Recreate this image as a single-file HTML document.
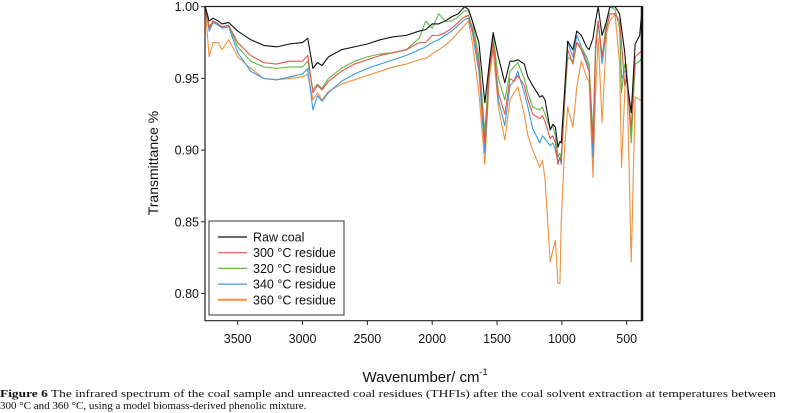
<!DOCTYPE html>
<html><head><meta charset="utf-8"><style>
body{margin:0;background:#fff;width:789px;height:413px;overflow:hidden}
svg{display:block;font-family:"Liberation Sans",sans-serif}
</style></head><body>
<svg id="chart" width="789" height="413">
<defs><clipPath id="pc"><rect x="205" y="6" width="437" height="315"/></clipPath></defs>
<g id="series" clip-path="url(#pc)"></g>
<line x1="205" y1="6.5" x2="642" y2="6.5" stroke="#222" stroke-width="1.2"/>
<line x1="205" y1="6" x2="205" y2="321" stroke="#222" stroke-width="1.2"/>
<line x1="205" y1="320.7" x2="643" y2="320.7" stroke="#222" stroke-width="1.2"/>
<line x1="642" y1="6" x2="642" y2="321" stroke="#111" stroke-width="2.5"/>
<g id="yticks"></g>
<g id="xticks"></g>
<text x="158" y="163" transform="rotate(-90 158 163)" text-anchor="middle" font-size="14" fill="#111">Transmittance %</text>
<text x="425" y="382" text-anchor="middle" font-size="15" fill="#111">Wavenumber/ cm<tspan dy="-7" font-size="9">-1</tspan></text>
<g>
<rect x="209" y="221" width="135" height="94" fill="#fff" stroke="#333" stroke-width="1"/>
<g id="legend"></g>
</g>
<text x="0" y="397" font-family="'Liberation Serif',serif" font-size="11" fill="#111" textLength="776" lengthAdjust="spacingAndGlyphs"><tspan font-weight="bold">Figure 6</tspan>  The infrared spectrum of the coal sample and unreacted coal residues (THFIs) after the coal solvent extraction at temperatures between</text>
<text x="0" y="409" font-family="'Liberation Serif',serif" font-size="11" fill="#111">300 °C and 360 °C, using a model biomass-derived phenolic mixture.</text>
</svg>
<script>
const wn=[3750,3720,3690,3650,3620,3570,3500,3400,3300,3200,3100,3000,2960,2920,2885,2850,2800,2700,2600,2500,2400,2300,2200,2100,2050,2000,1950,1900,1850,1800,1750,1720,1690,1640,1594,1560,1530,1490,1440,1400,1370,1340,1290,1262,1225,1170,1150,1130,1090,1070,1050,1030,1015,1005,980,955,915,885,850,810,790,760,740,720,690,655,630,590,555,540,515,500,465,435,400,380];
const rawCoal=[1.0,0.99,0.992,0.99,0.988,0.989,0.983,0.977,0.973,0.972,0.974,0.975,0.978,0.957,0.961,0.959,0.965,0.970,0.972,0.974,0.977,0.979,0.980,0.983,0.984,0.988,0.988,0.990,0.993,0.995,1.0,0.998,0.99,0.975,0.933,0.96,0.982,0.965,0.947,0.962,0.962,0.963,0.96,0.951,0.945,0.937,0.938,0.935,0.914,0.918,0.916,0.902,0.906,0.905,0.94,0.976,0.97,0.983,0.98,0.972,0.97,0.978,0.99,1.0,0.98,0.99,1.0,1.0,0.995,0.985,0.968,0.95,0.926,0.974,0.98,1.0];
const res300=[1.0,0.985,0.99,0.988,0.986,0.987,0.975,0.966,0.961,0.960,0.962,0.962,0.966,0.940,0.945,0.942,0.948,0.955,0.960,0.963,0.966,0.968,0.970,0.975,0.975,0.980,0.980,0.982,0.985,0.989,0.993,0.994,0.985,0.96,0.905,0.955,0.975,0.94,0.925,0.95,0.948,0.952,0.945,0.935,0.925,0.922,0.924,0.92,0.908,0.91,0.905,0.89,0.895,0.892,0.935,0.97,0.96,0.975,0.97,0.96,0.955,0.905,0.97,0.99,0.965,0.985,0.995,0.995,0.99,0.975,0.945,0.95,0.915,0.965,0.968,0.97];
const res320=[1.0,0.986,0.99,0.988,0.986,0.987,0.972,0.962,0.958,0.957,0.958,0.958,0.962,0.942,0.946,0.943,0.95,0.957,0.962,0.965,0.967,0.968,0.97,0.978,0.99,0.985,0.995,0.99,0.99,0.993,0.997,0.997,0.99,0.965,0.912,0.96,0.98,0.95,0.935,0.955,0.958,0.961,0.95,0.94,0.93,0.928,0.93,0.925,0.915,0.917,0.91,0.895,0.898,0.893,0.93,0.965,0.962,0.975,0.972,0.965,0.96,0.91,0.975,0.99,0.965,0.99,1.0,0.998,0.985,0.94,0.96,0.955,0.905,0.96,0.962,0.965];
const res340=[1.0,0.983,0.989,0.987,0.985,0.986,0.968,0.955,0.95,0.949,0.951,0.953,0.957,0.928,0.938,0.934,0.94,0.948,0.953,0.957,0.96,0.963,0.966,0.97,0.972,0.975,0.977,0.98,0.983,0.987,0.991,0.992,0.982,0.955,0.898,0.955,0.978,0.935,0.917,0.945,0.948,0.955,0.94,0.93,0.915,0.905,0.91,0.908,0.903,0.905,0.9,0.892,0.895,0.89,0.935,0.975,0.965,0.98,0.972,0.962,0.958,0.895,0.97,0.99,0.96,0.985,0.995,0.995,0.99,0.95,0.955,0.955,0.91,0.96,0.962,0.965];
const res360=[0.998,0.965,0.975,0.975,0.97,0.977,0.965,0.957,0.95,0.949,0.95,0.951,0.953,0.935,0.94,0.935,0.941,0.946,0.949,0.952,0.955,0.958,0.96,0.963,0.964,0.967,0.97,0.973,0.977,0.982,0.987,0.99,0.975,0.94,0.89,0.95,0.97,0.93,0.907,0.935,0.94,0.944,0.925,0.91,0.9,0.888,0.893,0.88,0.822,0.83,0.837,0.807,0.807,0.85,0.9,0.93,0.916,0.944,0.962,0.951,0.948,0.881,0.94,0.978,0.919,0.982,0.99,0.995,0.96,0.888,0.94,0.96,0.822,0.937,0.935,0.935];
const seriesNames=["Raw coal","300 °C residue","320 °C residue","340 °C residue","360 °C residue"];
const seriesColors=["#111111","#e0564a","#5fb844","#3d9be0","#f0903c"];
const yTicks=[1.00,0.95,0.90,0.85,0.80];
const xTicks=[3500,3000,2500,2000,1500,1000,500];

const NS="http://www.w3.org/2000/svg";
const xs=w=>237.7+(3500-w)*0.12967;
const ys=v=>6.7+(1-v)*1434;
function mk(tag,attrs,parent){const e=document.createElementNS(NS,tag);for(const k in attrs)e.setAttribute(k,attrs[k]);parent.appendChild(e);return e;}
const all=[rawCoal,res300,res320,res340,res360];
const sg=document.getElementById('series');
const order=[4,3,2,1,0];
order.forEach(i=>{
  const d=wn.map((w,j)=>(j?'L':'M')+xs(w).toFixed(2)+','+ys(all[i][j]).toFixed(2)).join('');
  const p=mk('path',{d:d,fill:'none',stroke:seriesColors[i],'stroke-width':1.1,'stroke-linejoin':'round'},sg);
  
  
});
const yt=document.getElementById('yticks');
yTicks.forEach(v=>{
  const l=mk('line',{x1:201,x2:205,y1:ys(v),y2:ys(v),stroke:'#222'},yt);
  
  
  const t=mk('text',{x:199,y:ys(v)+4.5,'text-anchor':'end','font-size':12.5,fill:'#111'},yt);
  t.textContent=v.toFixed(2);
  
  
});
const xt=document.getElementById('xticks');
xTicks.forEach(w=>{
  const l=mk('line',{x1:xs(w),x2:xs(w),y1:320.7,y2:325,stroke:'#222'},xt);
  
  
  const t=mk('text',{x:xs(w),y:343,'text-anchor':'middle','font-size':12.5,fill:'#111'},xt);
  t.textContent=w;
  
  
});
const lg=document.getElementById('legend');
seriesNames.forEach((n,i)=>{
  const y=237+i*15.7;
  const l=mk('line',{x1:218,x2:247,y1:y,y2:y,stroke:seriesColors[i],'stroke-width':i===4?2:1.2},lg);
  
  
  const t=mk('text',{x:253,y:y+4.5,'font-size':12.5,fill:'#111'},lg);
  t.textContent=n;
  
  
});
</script>
</body></html>
